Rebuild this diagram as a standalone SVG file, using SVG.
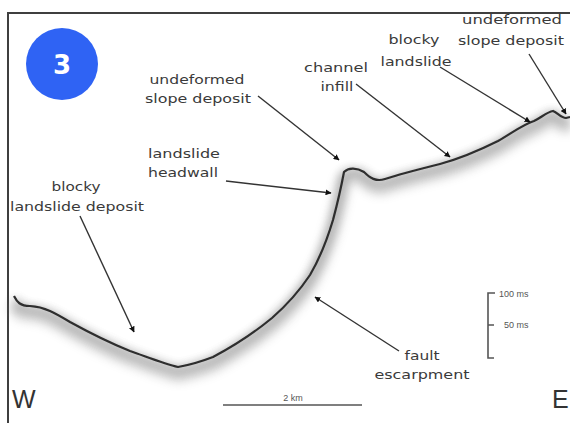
<svg xmlns="http://www.w3.org/2000/svg" width="570" height="423" viewBox="0 0 570 423">
  <style>
    .lbl { font-family: "DejaVu Sans", "Liberation Sans", sans-serif; font-size: 12px; fill: #3a3a3a; }
    .small { font-family: "Liberation Sans", Arial, sans-serif; font-size: 9px; fill: #555; }
    .dir { font-family: "Liberation Sans", Arial, sans-serif; font-size: 25px; fill: #333; }
    .lead { stroke: #333; stroke-width: 1.4; fill: none; marker-end: url(#tip); }
    .scale { stroke: #555; stroke-width: 1.6; fill: none; }
  </style>
  <defs>
    <marker id="tip" viewBox="0 0 10 10" refX="9" refY="5" markerWidth="6" markerHeight="6" orient="auto" markerUnits="userSpaceOnUse">
      <path d="M0,0 L10,5 L0,10 z" fill="#111"/>
    </marker>
    <filter id="haze" x="-10%" y="-20%" width="120%" height="160%">
      <feGaussianBlur stdDeviation="5"/>
    </filter>
    <filter id="soft" x="-5%" y="-5%" width="110%" height="110%">
      <feGaussianBlur stdDeviation="0.6"/>
    </filter>
    <path id="seafloor" d="M14,296 C17,302 20,306 30,306 C45,307 55,313 70,322 C90,333 110,343 130,351 C150,358 165,364 178,367 C190,365 200,362 213,357 C232,347 255,332 272,318 C288,304 300,290 310,275 C320,258 327,240 333,220 C337,205 341,188 344,172 C348,168 356,167 364,172 C370,178 376,182 385,179 C400,174 420,169 440,164 C462,158 480,150 498,141 C512,133 522,125 534,121 C542,117 547,112 553,111 C558,113 561,118 566,118 L570,117"/>
  </defs>

  <rect x="0" y="0" width="570" height="423" fill="#fff"/>

  <!-- frame -->
  <path d="M8,423 L8,13 L570,13" fill="none" stroke="#3f3f3f" stroke-width="2"/>

  <!-- seafloor reflector with its shaded underside -->
  <g id="profile">
    <use href="#seafloor" fill="none" stroke="#7a7a7a" stroke-width="14" opacity="0.35" transform="translate(0,8)" filter="url(#haze)"/>
    <use href="#seafloor" fill="none" stroke="#555" stroke-width="5" opacity="0.45" transform="translate(0,3)" filter="url(#haze)"/>
    <use href="#seafloor" fill="none" stroke="#2e2e2e" stroke-width="2.2" filter="url(#soft)"/>
  </g>

  <!-- panel number -->
  <g id="badge">
    <circle cx="62" cy="64" r="36" fill="#2f63f4"/>
    <text x="62" y="74" text-anchor="middle" font-family="'DejaVu Sans', sans-serif" font-weight="bold" font-size="26" fill="#fff">3</text>
  </g>

  <!-- leader arrows -->
  <g id="connectors">
    <path class="lead" d="M258,96 L339,160"/>
    <path class="lead" d="M226,181 L331,193"/>
    <path class="lead" d="M80,216 L134,332"/>
    <path class="lead" d="M356,84 L450,157"/>
    <path class="lead" d="M440,67 L530,122"/>
    <path class="lead" d="M529,54 L566,114"/>
    <path class="lead" d="M399,351 L315,297"/>
  </g>

  <g id="undeformed-slope-deposit-west">
    <text class="lbl" x="197" y="84" text-anchor="middle" textLength="95" lengthAdjust="spacingAndGlyphs">undeformed</text>
    <text class="lbl" x="198" y="103" text-anchor="middle" textLength="106" lengthAdjust="spacingAndGlyphs">slope deposit</text>
  </g>
  <g id="landslide-headwall">
    <text class="lbl" x="184" y="158" text-anchor="middle" textLength="72" lengthAdjust="spacingAndGlyphs">landslide</text>
    <text class="lbl" x="183" y="177" text-anchor="middle" textLength="70" lengthAdjust="spacingAndGlyphs">headwall</text>
  </g>
  <g id="blocky-landslide-deposit">
    <text class="lbl" x="76" y="191" text-anchor="middle" textLength="49" lengthAdjust="spacingAndGlyphs">blocky</text>
    <text class="lbl" x="77" y="211" text-anchor="middle" textLength="134" lengthAdjust="spacingAndGlyphs">landslide deposit</text>
  </g>
  <g id="channel-infill">
    <text class="lbl" x="336" y="72" text-anchor="middle" textLength="64" lengthAdjust="spacingAndGlyphs">channel</text>
    <text class="lbl" x="337" y="91" text-anchor="middle" textLength="33" lengthAdjust="spacingAndGlyphs">infill</text>
  </g>
  <g id="blocky-landslide">
    <text class="lbl" x="414" y="44" text-anchor="middle" textLength="51" lengthAdjust="spacingAndGlyphs">blocky</text>
    <text class="lbl" x="416" y="66" text-anchor="middle" textLength="71" lengthAdjust="spacingAndGlyphs">landslide</text>
  </g>
  <g id="undeformed-slope-deposit-east">
    <text class="lbl" x="512" y="24" text-anchor="middle" textLength="100" lengthAdjust="spacingAndGlyphs">undeformed</text>
    <text class="lbl" x="511" y="45" text-anchor="middle" textLength="106" lengthAdjust="spacingAndGlyphs">slope deposit</text>
  </g>
  <g id="fault-escarpment">
    <text class="lbl" x="422" y="360" text-anchor="middle" textLength="35" lengthAdjust="spacingAndGlyphs">fault</text>
    <text class="lbl" x="422" y="379" text-anchor="middle" textLength="95" lengthAdjust="spacingAndGlyphs">escarpment</text>
  </g>

  <!-- orientation -->
  <text class="dir" x="12" y="408">W</text>
  <text class="dir" x="552" y="408">E</text>

  <!-- horizontal scale -->
  <g id="horizontal-scale">
    <path class="scale" d="M223,405 L362,405"/>
    <text class="small" x="293" y="401" text-anchor="middle">2 km</text>
  </g>

  <!-- vertical scale -->
  <g id="vertical-scale">
    <path class="scale" d="M495,293 L488,293 L488,358 L494,358 M488,325 L494,325"/>
    <text class="small" x="499" y="297">100 ms</text>
    <text class="small" x="504" y="328">50 ms</text>
  </g>
</svg>
